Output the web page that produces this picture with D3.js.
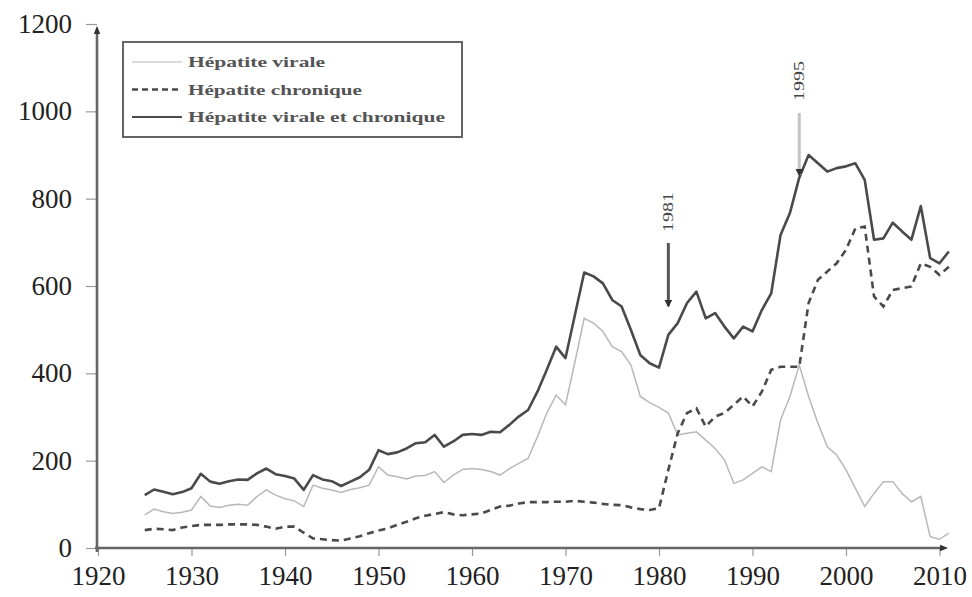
<!DOCTYPE html>
<html>
<head>
<meta charset="utf-8">
<script src="https://cdn.jsdelivr.net/npm/d3@7"></script>
<style>
  body { margin: 0; background: #fff; }
  text { font-family: "Liberation Serif", "DejaVu Serif", serif; }
</style>
</head>
<body>
<svg id="chart"></svg>
<script>
const w = 972, h = 597;

// years 1925 .. 2011
const years = d3.range(1925, 2012);

// Hépatite virale (light grey)
const virale = [
  76, 89, 83, 79, 82, 87, 118, 96, 93, 98,
  100, 98, 118, 133, 121, 113, 108, 95, 144, 137,
  133, 127, 134, 138, 144, 186, 167, 163, 158, 165,
  166, 175, 150, 167, 180, 182, 180, 175, 167, 182,
  194, 205, 255, 309, 350, 328, 425, 526, 515, 496,
  461, 450, 419, 347, 333, 322, 309, 259, 263, 266,
  247, 228, 202, 148, 156, 171, 186, 175, 293, 347,
  419, 347, 286, 232, 213, 179, 137, 95, 125, 152,
  152, 125, 106, 118, 26, 20, 34
];

// Hépatite chronique (dashed)
const chronique = [
  41, 44, 43, 41, 47, 50, 53, 53, 53, 54,
  54, 54, 53, 49, 44, 49, 49, 35, 22, 20,
  18, 17, 22, 27, 34, 40, 45, 53, 60, 68,
  74, 78, 82, 77, 75, 77, 79, 87, 95, 97,
  102, 105, 105, 105, 106, 106, 108, 106, 104, 101,
  99, 98, 93, 89, 87, 91, 179, 263, 309, 320,
  278, 301, 309, 328, 347, 324, 358, 408, 415, 415,
  415, 561, 614, 633, 652, 683, 732, 736, 576, 553,
  591, 595, 599, 652, 644, 625, 644
];

// Hépatite virale et chronique (solid)
const total = [
  121, 134, 129, 123, 128, 137, 170, 152, 147, 153,
  157, 156, 171, 182, 169, 165, 159, 133, 167, 157,
  153, 142, 152, 162, 179, 224, 215, 219, 228, 240,
  242, 259, 232, 244, 259, 261, 259, 266, 265, 282,
  301, 316, 358, 408, 461, 435, 533, 631, 622, 606,
  568, 553, 499, 442, 423, 413, 488, 515, 561, 587,
  526, 538, 507, 480, 507, 496, 545, 583, 717, 767,
  848, 900, 881, 862, 870, 874, 881, 843, 706, 709,
  745, 725, 706, 783, 664, 652, 679
];

const yTicks = [0, 200, 400, 600, 800, 1000, 1200];
const xTicks = d3.range(1920, 2011, 10);
const seriesNames = ['Hépatite virale', 'Hépatite chronique', 'Hépatite virale et chronique'];
const notes = [1981, 1995];

const axisColor = '#666';
const darkLine = '#4a4a4a';
const lightLine = '#b8b8b8';

var x = d3.scaleLinear().domain([1920, 2010]).range([98, 939.5]);
var y = d3.scaleLinear().domain([0, 1200]).range([548, 24]);

var svg = d3.select('#chart')
  .attr('width', w)
  .attr('height', h);

// arrow heads
var defs = svg.append('defs');
defs.append('marker')
  .attr('id', 'arrowAxis')
  .attr('viewBox', '0 0 10 10')
  .attr('refX', 5).attr('refY', 5)
  .attr('markerWidth', 3.2).attr('markerHeight', 3.2)
  .attr('orient', 'auto')
  .append('path')
  .attr('d', 'M0,1 L10,5 L0,9 Z')
  .attr('fill', '#333');
defs.append('marker')
  .attr('id', 'arrowNote')
  .attr('viewBox', '0 0 10 10')
  .attr('refX', 8).attr('refY', 5)
  .attr('markerWidth', 2.6).attr('markerHeight', 2.6)
  .attr('orient', 'auto')
  .append('path')
  .attr('d', 'M0,0 L10,5 L0,10 Z')
  .attr('fill', '#333');

// Y axis
var yAxis = svg.append('g')
  .attr('transform', 'translate(97,0)')
  .call(d3.axisLeft(y).tickValues(yTicks).tickFormat(d3.format('d')).tickSize(11).tickPadding(14));
yAxis.select('.domain').remove();
yAxis.selectAll('.tick line').attr('stroke', '#999').attr('stroke-width', 1.2);
yAxis.selectAll('.tick text')
  .attr('fill', '#222')
  .style('font-size', '27px');

// X axis
var xAxis = svg.append('g')
  .attr('transform', 'translate(0,548)')
  .call(d3.axisBottom(x).tickValues(xTicks).tickFormat(d3.format('d')).tickSize(8).tickPadding(10));
xAxis.select('.domain').remove();
xAxis.selectAll('.tick line').attr('stroke', '#999').attr('stroke-width', 1.2);
xAxis.selectAll('.tick text')
  .attr('fill', '#222')
  .style('font-size', '27px');

// axis lines with arrows
svg.append('line')
  .attr('x1', 97).attr('y1', 552).attr('x2', 97).attr('y2', 30)
  .attr('stroke', axisColor).attr('stroke-width', 2.6)
  .attr('marker-end', 'url(#arrowAxis)');
svg.append('line')
  .attr('x1', 95).attr('y1', 548).attr('x2', 944).attr('y2', 548)
  .attr('stroke', axisColor).attr('stroke-width', 2.6)
  .attr('marker-end', 'url(#arrowAxis)');

// lines
var line = function(values) {
  return d3.line()
    .x(function(d, i) { return x(years[i]); })
    .y(function(d) { return y(d); })(values);
};

svg.append('path')
  .attr('d', line(virale))
  .attr('fill', 'none')
  .attr('stroke', lightLine)
  .attr('stroke-width', 1.5);

svg.append('path')
  .attr('d', line(chronique))
  .attr('fill', 'none')
  .attr('stroke', darkLine)
  .attr('stroke-width', 2.6)
  .attr('stroke-dasharray', '7,5');

svg.append('path')
  .attr('d', line(total))
  .attr('fill', 'none')
  .attr('stroke', darkLine)
  .attr('stroke-width', 2.6)
  .attr('stroke-linejoin', 'round');

// annotations 1981 and 1995
var noteStyle = [
  {top: 243, bottom: 306, textMid: 212, color: '#555'},
  {top: 113, bottom: 175, textMid: 81, color: '#c4c4c4'}
];
notes.forEach(function(yr, i) {
  var s = noteStyle[i];
  svg.append('line')
    .attr('x1', x(yr)).attr('x2', x(yr))
    .attr('y1', s.top).attr('y2', s.bottom)
    .attr('stroke', s.color)
    .attr('stroke-width', 3)
    .attr('marker-end', 'url(#arrowNote)');
  svg.append('text')
    .attr('transform', 'translate(' + (x(yr) + 5) + ',' + s.textMid + ') rotate(-90)')
    .attr('text-anchor', 'middle')
    .attr('fill', '#444')
    .attr('textLength', 40)
    .attr('lengthAdjust', 'spacingAndGlyphs')
    .style('font-size', '15px')
    .text(yr);
});

// legend
var legend = svg.append('g');
legend.append('rect')
  .attr('x', 123).attr('y', 42)
  .attr('width', 339).attr('height', 95)
  .attr('fill', '#fff')
  .attr('stroke', '#555')
  .attr('stroke-width', 1.8);

var legendStyles = [
  {color: lightLine, width: 1.2, dash: null, len: 137},
  {color: darkLine, width: 2.4, dash: '6,4', len: 174},
  {color: darkLine, width: 1.8, dash: null, len: 257}
];
seriesNames.forEach(function(name, i) {
  var ly = 62 + i * 27.5;
  var st = legendStyles[i];
  legend.append('line')
    .attr('x1', 132).attr('x2', 182)
    .attr('y1', ly).attr('y2', ly)
    .attr('stroke', st.color)
    .attr('stroke-width', st.width)
    .attr('stroke-dasharray', st.dash);
  legend.append('text')
    .attr('x', 188).attr('y', ly + 5)
    .attr('fill', '#555')
    .attr('textLength', st.len)
    .attr('lengthAdjust', 'spacingAndGlyphs')
    .style('font-size', '15px')
    .style('font-weight', 'bold')
    .text(name);
});
</script>
</body>
</html>
